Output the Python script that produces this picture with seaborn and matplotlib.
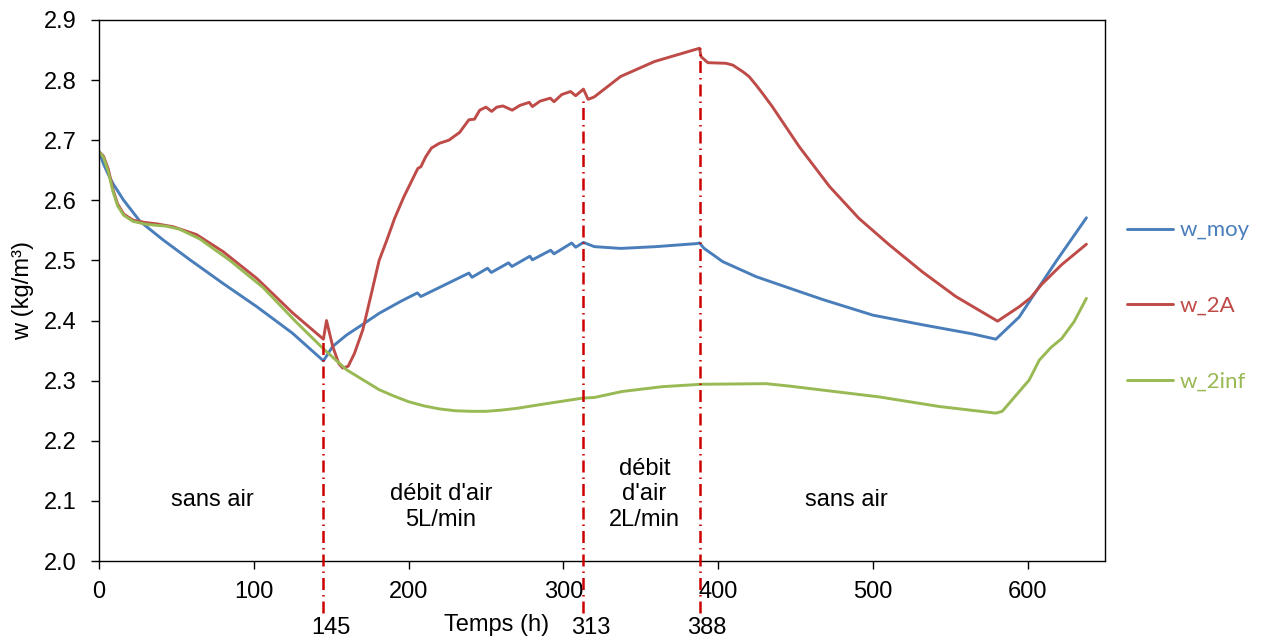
import matplotlib
matplotlib.use("Agg")
import matplotlib.pyplot as plt
import pandas as pd
import seaborn as sns
from matplotlib.transforms import blended_transform_factory

# ---------------- data ----------------
t_moy = [0, 3, 6, 9, 15.7, 26.5, 41.5, 58.8, 80, 102, 125, 145, 151, 160, 170, 181, 195,
         205.7, 208, 239, 241, 251, 253.5, 264.6, 266.8, 278.4, 280, 291.8, 294, 305.4, 308,
         313, 320, 337, 360, 386, 388, 391, 403, 424.6, 446, 467.6, 500, 532, 564, 579.5,
         594.6, 602, 618, 638]
w_moy = [2.681, 2.660, 2.643, 2.628, 2.601, 2.565, 2.534, 2.501, 2.462, 2.423, 2.379, 2.333,
         2.357, 2.376, 2.393, 2.412, 2.432, 2.446, 2.440, 2.479, 2.472, 2.487, 2.480, 2.496,
         2.490, 2.507, 2.501, 2.517, 2.511, 2.529, 2.522, 2.530, 2.523, 2.520, 2.523, 2.528,
         2.529, 2.520, 2.498, 2.473, 2.454, 2.435, 2.409, 2.393, 2.378, 2.369, 2.406, 2.435,
         2.497, 2.571]

t_2A = [0, 3, 6, 9, 12, 16, 22, 30, 37, 48, 63, 80, 102, 125, 145, 147, 151, 155, 157.5,
        161, 165, 170.5, 176, 181, 186, 191, 197, 206, 208, 211, 214.8, 220, 226, 233, 239,
        242.6, 246, 250, 253.7, 257, 261, 267, 272, 278, 280, 285, 291.6, 294, 299, 304.7,
        308, 313, 316, 320, 337, 359, 388, 389, 393.4, 405, 409.5, 416, 420, 424.5, 428.7,
        435, 452.5, 472, 491, 510.6, 532, 553.6, 580.6, 594.6, 602, 609, 622, 638]
w_2A = [2.681, 2.673, 2.652, 2.618, 2.594, 2.577, 2.567, 2.563, 2.561, 2.556, 2.543, 2.515,
        2.470, 2.413, 2.369, 2.400, 2.357, 2.328, 2.321, 2.324, 2.345, 2.385, 2.445, 2.500,
        2.534, 2.570, 2.606, 2.653, 2.656, 2.672, 2.687, 2.695, 2.700, 2.713, 2.734, 2.735,
        2.750, 2.755, 2.748, 2.755, 2.757, 2.750, 2.758, 2.763, 2.756, 2.765, 2.770, 2.764,
        2.776, 2.781, 2.774, 2.785, 2.768, 2.772, 2.806, 2.831, 2.853, 2.839, 2.829, 2.828,
        2.825, 2.814, 2.806, 2.792, 2.778, 2.756, 2.689, 2.623, 2.570, 2.526, 2.481, 2.440,
        2.399, 2.423, 2.438, 2.460, 2.493, 2.527]

t_2inf = [0, 3, 6, 9, 12, 16, 22, 30.8, 43.6, 52, 65, 84.6, 106, 127.6, 144.6, 160, 181, 190,
          200, 210, 220, 230, 240, 250, 260, 270, 284.7, 312.5, 320, 338, 364, 389, 431, 446,
          504, 543, 579.5, 583.6, 601, 607.5, 615, 622, 630, 638]
w_2inf = [2.681, 2.671, 2.648, 2.615, 2.591, 2.575, 2.565, 2.560, 2.557, 2.552, 2.536, 2.500,
          2.455, 2.397, 2.354, 2.318, 2.285, 2.275, 2.265, 2.258, 2.253, 2.250, 2.249, 2.249,
          2.251, 2.254, 2.260, 2.271, 2.272, 2.282, 2.290, 2.294, 2.295, 2.291, 2.273, 2.257,
          2.246, 2.249, 2.301, 2.334, 2.355, 2.370, 2.398, 2.437]

series_names = ["w_moy", "w_2A", "w_2inf"]
series_colors = ["#4A7EBB", "#BE4B48", "#98B954"]

event_times = [145, 313, 388]
event_tops = [2.368, 2.770, 2.853]
event_labels = ["145", "313", "388"]

region_texts = ["sans air", "débit d'air\n5L/min", "débit\nd'air\n2L/min", "sans air"]
region_x = [73, 221, 352.5, 483]
region_y = [2.101, 2.090, 2.111, 2.101]

x_ticks = [0, 100, 200, 300, 400, 500, 600]
y_ticks = [2.0, 2.1, 2.2, 2.3, 2.4, 2.5, 2.6, 2.7, 2.8, 2.9]

assert len(t_moy) == len(w_moy)
assert len(t_2A) == len(w_2A)
assert len(t_2inf) == len(w_2inf)

# ---------------- frame ----------------
df = pd.concat([
    pd.DataFrame({"t": t_moy, "w": w_moy, "serie": "w_moy"}),
    pd.DataFrame({"t": t_2A, "w": w_2A, "serie": "w_2A"}),
    pd.DataFrame({"t": t_2inf, "w": w_2inf, "serie": "w_2inf"}),
], ignore_index=True)

sns.set_theme(style="white")
plt.rcParams["font.family"] = ["Liberation Sans", "DejaVu Sans"]

W, H = 1265, 642
fig = plt.figure(figsize=(W / 100, H / 100), dpi=100)
ax = fig.add_axes([99 / W, 1 - 561 / H, 1006 / W, 541 / H])

sns.lineplot(data=df, x="t", y="w", hue="serie", hue_order=series_names,
             palette=dict(zip(series_names, series_colors)), estimator=None,
             sort=False, linewidth=2.1, ax=ax, legend=True)
for ln in ax.get_lines():
    ln.set_solid_joinstyle("round")
    ln.set_solid_capstyle("round")

ax.set_xlim(0, 650)
ax.set_ylim(2.0, 2.9)
ax.set_xticks(x_ticks)
ax.set_yticks(y_ticks)
ax.set_yticklabels([f"{v:.1f}" for v in y_ticks])
ax.set_xticklabels([str(v) for v in x_ticks])

FS = 17
ax.tick_params(axis="both", direction="out", length=6, width=1.0, color="black",
               labelsize=FS, labelcolor="black")
ax.tick_params(axis="x", pad=8.5, bottom=True)
ax.tick_params(axis="y", pad=10, left=True)
for s in ax.spines.values():
    s.set_visible(True)
    s.set_color("black")
    s.set_linewidth(1.0)

# event lines
ax.vlines(event_times, ymin=1.9135, ymax=event_tops, colors="#CC0000",
          linestyles=[(0, (4.8, 2.0, 0.6, 2.0))], linewidth=1.8, clip_on=False, zorder=5)
trans = blended_transform_factory(ax.transData, ax.transAxes)
for xv, lab in zip(event_times, event_labels):
    ax.text(xv + 5, -0.124, lab, transform=trans, ha="center", va="center",
            fontsize=FS, color="black")

# region texts
for xv, yv, txt in zip(region_x, region_y, region_texts):
    ax.text(xv, yv, txt, ha="center", va="center", fontsize=FS, color="black",
            linespacing=1.2, multialignment="center")

# axis labels
ax.set_xlabel("Temps (h)", fontsize=FS, color="black")
ax.xaxis.set_label_coords((497 - 99) / 1006, (561 - 625) / 541)
ax.xaxis.label.set_va("center")
ax.set_ylabel("w (kg/m³)", fontsize=FS, color="black")
ax.yaxis.set_label_coords((23 - 99) / 1006, 0.5)
ax.yaxis.label.set_va("center")

# legend
handles, labels = ax.get_legend_handles_labels()
leg = ax.legend(handles, labels, loc="center left",
                bbox_to_anchor=(1127 / W, 1 - 306 / H), bbox_transform=fig.transFigure,
                frameon=False, prop={"family": "Lato", "size": 16},
                handlelength=2.05, handletextpad=0.3, labelspacing=2.5,
                borderpad=0, borderaxespad=0)
for txt, col in zip(leg.get_texts(), series_colors):
    txt.set_color(col)
for line in leg.get_lines():
    line.set_linewidth(2.1)

fig.savefig("out.png", dpi=100)
